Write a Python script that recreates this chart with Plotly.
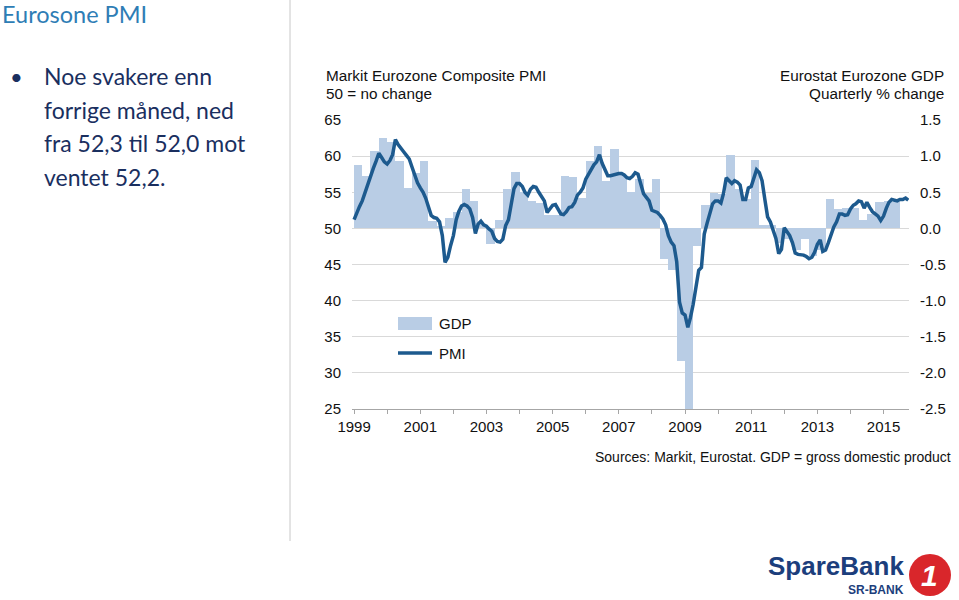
import plotly.graph_objects as go
import pandas as pd

# ---------------- data ----------------
pmi_1999 = [51.2, 52.3, 53.0, 53.8, 55.0, 56.0, 57.4, 58.3, 59.3, 60.4, 59.8, 59.2]
pmi_2000 = [58.9, 59.4, 60.2, 62.3, 61.6, 61.0, 60.6, 60.1, 59.6, 58.5, 57.2, 56.3]
pmi_2001 = [55.6, 55.0, 54.2, 52.8, 51.8, 51.5, 51.4, 50.9, 49.0, 45.3, 46.0, 47.6]
pmi_2002 = [49.0, 51.2, 52.3, 53.1, 53.3, 53.1, 52.7, 51.5, 49.3, 50.6, 51.0, 50.5]
pmi_2003 = [50.3, 49.9, 49.6, 48.6, 48.2, 48.1, 48.5, 50.4, 51.2, 53.3, 55.5, 56.2]
pmi_2004 = [56.2, 55.8, 55.0, 54.6, 55.4, 55.8, 55.7, 55.0, 54.3, 53.8, 52.2, 52.8]
pmi_2005 = [53.2, 53.3, 52.7, 52.0, 51.9, 52.3, 52.9, 53.0, 53.6, 54.6, 55.0, 55.6]
pmi_2006 = [56.8, 57.5, 58.2, 58.8, 59.2, 60.2, 59.0, 58.0, 57.3, 57.3, 57.4, 57.6]
pmi_2007 = [57.6, 57.6, 57.4, 57.0, 56.9, 57.2, 57.7, 57.5, 56.2, 54.8, 54.3, 53.8]
pmi_2008 = [52.5, 52.3, 52.2, 51.8, 51.3, 50.5, 49.0, 48.1, 47.6, 45.4, 39.8, 38.3]
pmi_2009 = [38.0, 36.3, 37.6, 39.5, 41.6, 44.2, 44.6, 49.2, 50.7, 52.0, 53.4, 53.8]
pmi_2010 = [53.8, 53.5, 54.8, 57.0, 56.6, 56.2, 56.6, 56.4, 56.0, 54.0, 54.0, 55.6]
pmi_2011 = [55.8, 57.0, 58.1, 57.7, 56.6, 54.0, 51.6, 50.9, 49.8, 48.6, 46.5, 47.1]
pmi_2012 = [50.1, 49.5, 49.0, 48.0, 46.6, 46.4, 46.4, 46.3, 46.1, 45.8, 46.0, 46.7]
pmi_2013 = [47.8, 48.4, 46.8, 47.0, 48.0, 49.3, 50.2, 50.9, 52.0, 52.0, 51.8, 51.9]
pmi_2014 = [52.7, 53.2, 53.4, 53.8, 53.7, 52.8, 53.6, 52.9, 52.3, 52.0, 51.7, 51.1]
pmi_2015 = [51.7, 52.8, 53.6, 54.0, 53.9, 53.8, 54.0, 54.0, 54.2, 53.9]

gdp_1999 = [0.88, 0.72, 1.07, 1.25]
gdp_2000 = [1.20, 0.93, 0.56, 0.76]
gdp_2001 = [0.93, 0.10, 0.03, 0.15]
gdp_2002 = [0.22, 0.54, 0.38, 0.06]
gdp_2003 = [-0.22, 0.11, 0.54, 0.78]
gdp_2004 = [0.50, 0.38, 0.35, 0.19]
gdp_2005 = [0.19, 0.72, 0.71, 0.42]
gdp_2006 = [0.93, 1.14, 0.65, 1.10]
gdp_2007 = [0.74, 0.51, 0.68, 0.49]
gdp_2008 = [0.68, -0.42, -0.58, -1.84]
gdp_2009 = [-2.60, -0.25, 0.33, 0.49]
gdp_2010 = [0.47, 1.02, 0.55, 0.40]
gdp_2011 = [0.95, 0.05, 0.05, -0.20]
gdp_2012 = [-0.15, -0.30, -0.15, -0.38]
gdp_2013 = [-0.30, 0.40, 0.27, 0.28]
gdp_2014 = [0.28, 0.12, 0.20, 0.37]
gdp_2015 = [0.38, 0.37]

pmi_ticks = [25, 30, 35, 40, 45, 50, 55, 60, 65]
gdp_ticks = [-2.5, -2.0, -1.5, -1.0, -0.5, 0.0, 0.5, 1.0, 1.5]
gdp_tick_labels = ["-2.5", "-2.0", "-1.5", "-1.0", "-0.5", "0.0", "0.5", "1.0", "1.5"]
years = list(range(1999, 2016))
year_labels = [str(y) if y % 2 == 1 else "" for y in years]

# ---------------- build series ----------------
pmi_values = (pmi_1999 + pmi_2000 + pmi_2001 + pmi_2002 + pmi_2003 + pmi_2004 + pmi_2005
              + pmi_2006 + pmi_2007 + pmi_2008 + pmi_2009 + pmi_2010 + pmi_2011 + pmi_2012
              + pmi_2013 + pmi_2014 + pmi_2015)
pmi_dates = pd.date_range("1999-01-01", periods=len(pmi_values), freq="MS")

gdp_values = (gdp_1999 + gdp_2000 + gdp_2001 + gdp_2002 + gdp_2003 + gdp_2004 + gdp_2005
              + gdp_2006 + gdp_2007 + gdp_2008 + gdp_2009 + gdp_2010 + gdp_2011 + gdp_2012
              + gdp_2013 + gdp_2014 + gdp_2015)
quarters = pd.period_range("1999Q1", periods=len(gdp_values), freq="Q")
q_start = [p.start_time for p in quarters]
q_width = [((p + 1).start_time - p.start_time).total_seconds() * 1000 for p in quarters]

# ---------------- geometry helpers ----------------
W, H = 959, 600
PL, PR, PT, PB = 352, 909, 120, 409


def px(x):
    return (x - PL) / (PR - PL)


def py(y):
    return (PB - y) / (PB - PT)


BAR_COLOR = "#B9CDE5"
LINE_COLOR = "#1D5A8E"
ARIAL = "Liberation Sans, Arial, sans-serif"
CAL = "Lato, Carlito, sans-serif"

fig = go.Figure()
fig.add_trace(go.Bar(x=q_start, y=gdp_values, width=q_width, offset=0,
                     marker=dict(color=BAR_COLOR, line=dict(width=0)),
                     yaxis="y", name="GDP", showlegend=False))
fig.add_trace(go.Scatter(x=pmi_dates, y=pmi_values, mode="lines",
                         line=dict(color=LINE_COLOR, width=3.5),
                         yaxis="y2", name="PMI", showlegend=False))

fig.update_layout(
    width=W, height=H,
    margin=dict(l=PL, r=W - PR, t=PT, b=H - PB, pad=0),
    paper_bgcolor="white", plot_bgcolor="white",
    bargap=0,
    xaxis=dict(type="date", range=["1998-12-09", "2015-10-09"],
               tickvals=[pd.Timestamp(f"{y}-01-01") for y in years], ticktext=year_labels,
               ticks="outside", ticklen=4, tickcolor="#A6A6A6",
               showline=True, linecolor="#A6A6A6", linewidth=1,
               showgrid=False, zeroline=False,
               tickfont=dict(family=ARIAL, size=15, color="#111")),
    yaxis=dict(side="right", range=[-2.5, 1.5], tickvals=gdp_ticks, ticktext=gdp_tick_labels,
               showgrid=True, gridcolor="#D9D9D9", gridwidth=1, zeroline=False,
               ticks="", ticklabelstandoff=10,
               tickfont=dict(family=ARIAL, size=15, color="#111")),
    yaxis2=dict(overlaying="y", side="left", range=[25, 65], tickvals=pmi_ticks,
                showgrid=False, zeroline=False, ticks="", ticklabelstandoff=10,
                tickfont=dict(family=ARIAL, size=15, color="#111")),
)

ann = []


def text(x, y, s, size, color="#111", family=ARIAL, xanchor="left", bold=False):
    if bold:
        s = f"<b>{s}</b>"
    ann.append(dict(x=px(x), y=py(y), xref="paper", yref="paper", text=s, showarrow=False,
                    xanchor=xanchor, yanchor="middle",
                    font=dict(family=family, size=size, color=color)))


# slide texts
text(0, 14, "Eurosone PMI", 23.5, color="#2E7DB5", family=CAL)
text(16, 76, "•", 22, color="#1A2F5F", family=CAL, xanchor="center")
body = ["Noe svakere enn", "forrige måned, ned", "fra 52,3 til 52,0 mot", "ventet 52,2."]
for i, line in enumerate(body):
    text(42, 76 + i * 33.7, line, 23, color="#1A2F5F", family=CAL)

# chart titles
text(324, 75, "Markit Eurozone Composite PMI", 15.3)
text(324, 94, "50 = no change", 15.3)
text(946, 75, "Eurostat Eurozone GDP", 15.3, xanchor="right")
text(946, 94, "Quarterly % change", 15.3, xanchor="right")
text(953, 457, "Sources: Markit, Eurostat. GDP = gross domestic product", 14, xanchor="right")

# legend
text(437, 323, "GDP", 15)
text(437, 353, "PMI", 15)

# logo
text(906, 566, "SpareBank", 26, color="#1C3E7C", xanchor="right", bold=True)
text(906, 590, "SR-BANK", 12, color="#1C3E7C", xanchor="right", bold=True)
text(930, 575, "<i>1</i>", 30, color="white", xanchor="center", bold=True)

shapes = [
    dict(type="line", xref="paper", yref="paper", x0=px(290), x1=px(290), y0=py(0), y1=py(541),
         line=dict(color="#C8C8C8", width=1)),
    dict(type="rect", xref="paper", yref="paper", x0=px(398), x1=px(432), y0=py(317), y1=py(330),
         fillcolor=BAR_COLOR, line=dict(width=0)),
    dict(type="line", xref="paper", yref="paper", x0=px(398), x1=px(432), y0=py(353), y1=py(353),
         line=dict(color=LINE_COLOR, width=3.5)),
    dict(type="circle", xref="paper", yref="paper", x0=px(909), x1=px(951), y0=py(554), y1=py(596),
         fillcolor="#D9262B", line=dict(width=0), layer="below"),
]
fig.update_layout(annotations=ann, shapes=shapes)

fig.write_html("out.html", config={"displayModeBar": False},
               post_script="document.body.style.margin='0px';")
